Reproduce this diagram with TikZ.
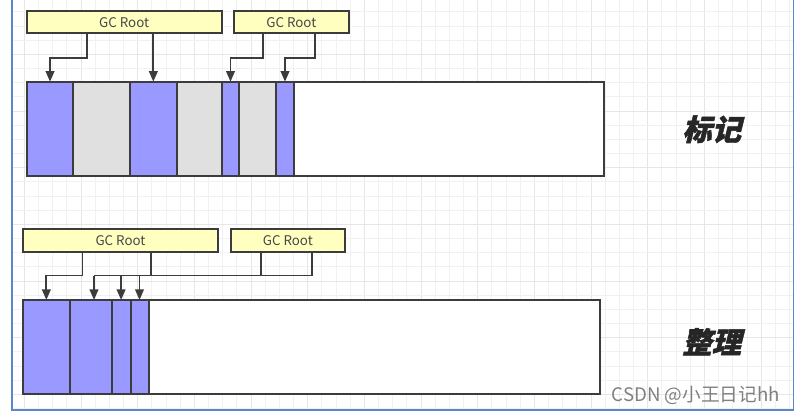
\documentclass[tikz,border=0pt]{standalone}
\usepackage{fontspec}
\setmainfont{Noto Sans CJK SC}
\newfontfamily\cjk{Noto Sans CJK SC}
\newfontfamily\cjkbi[FakeSlant=0.25,BoldFeatures={FakeSlant=0.25,FakeBold=1.5}]{Noto Sans CJK SC}
\usetikzlibrary{fit,arrows.meta}
\definecolor{blu}{HTML}{9999FF}
\definecolor{gry}{HTML}{E0E0E0}
\definecolor{yel}{HTML}{FFFFC0}
\definecolor{edge}{HTML}{3C3C3C}
\definecolor{frame}{HTML}{5A88C8}
\definecolor{gmin}{HTML}{F1F1F1}
\definecolor{gmaj}{HTML}{E6E6E6}
\tikzset{
  seg/.style={draw=edge, line width=1.5pt, inner sep=0pt, outer sep=0pt},
  gcbox/.style={seg, fill=yel, line width=1.3pt},
  gctext/.style={font=\cjk\fontsize{10}{11}\selectfont, text=black!72},
  conn/.style={draw=edge, line width=1.4pt},
  arr/.style={conn, -{Triangle[length=8pt,width=6.5pt]}},
  bigl/.style={font=\cjkbi\bfseries\fontsize{22}{24}\selectfont, text=black!85},
  wmark/.style={font=\cjk\fontsize{14}{16}\selectfont, text=black!50, inner sep=0pt}
}
\begin{document}
\begin{tikzpicture}[x=0.75pt,y=-0.75pt]
\useasboundingbox (0,0) rectangle (799,414);
% grid
\foreach \i in {1,...,55}{
  \pgfmathsetmacro{\gx}{10.05+14.17*\i}
  \pgfmathtruncatemacro{\gm}{mod(\i-1,4)}
  \ifnum\gm=0 \draw[gmaj, line width=0.6pt] (\gx,0) -- (\gx,410);
  \else \draw[gmin, line width=0.6pt] (\gx,0) -- (\gx,410); \fi
}
\foreach \j in {0,...,28}{
  \pgfmathsetmacro{\gy}{11.8+14.17*\j}
  \pgfmathtruncatemacro{\gm}{mod(\j,4)}
  \ifnum\gm=3 \draw[gmaj, line width=0.6pt] (12,\gy) -- (793.3,\gy);
  \else \draw[gmin, line width=0.6pt] (12,\gy) -- (793.3,\gy); \fi
}
\draw[frame, line width=1.1pt] (12,0) -- (12,410) -- (793.3,410) -- (793.3,0);

% ---------- top: mark ----------
\node[gcbox, fit={(26.7,11) (221.7,33.3)}, label={[gctext]center:GC Root}] (g1) {};
\node[gcbox, fit={(234,11) (348.7,33.3)}, label={[gctext]center:GC Root}] (g2) {};
\node[seg, fill=white, fit={(26.7,81.7) (604,175.7)}] (bar1) {};
\node[seg, fill=blu, fit={(26.7,81.7) (73.3,175.7)}] (a1) {};
\node[seg, fill=gry, fit={(73.3,81.7) (130,175.7)}] (a2) {};
\node[seg, fill=blu, fit={(130,81.7) (176.7,175.7)}] (a3) {};
\node[seg, fill=gry, fit={(176.7,81.7) (221.7,175.7)}] (a4) {};
\node[seg, fill=blu, fit={(221.7,81.7) (239.3,175.7)}] (a5) {};
\node[seg, fill=gry, fit={(239.3,81.7) (276,175.7)}] (a6) {};
\node[seg, fill=blu, fit={(276,81.7) (294,175.7)}] (a7) {};
\coordinate (t1) at (86.7,0);
\coordinate (t3) at (263.3,0);
\coordinate (t4) at (315,0);
\coordinate (e1) at (0,58.3);
\draw[arr] (g1.south -| t1) -- (t1 |- e1) -| (a1.north);
\draw[arr] (g1.south -| a3.north) -- (a3.north);
\draw[arr] (g2.south -| t3) -- (t3 |- e1) -| (a5.north);
\draw[arr] (g2.south -| t4) -- (t4 |- e1) -| (a7.north);
\node[bigl] (lab1) at (711.7,129.3) {标记};

% ---------- bottom: compact ----------
\node[gcbox, fit={(22.7,229.3) (218.3,252.3)}, label={[gctext]center:GC Root}] (h1) {};
\node[gcbox, fit={(230.7,229.3) (345,252.3)}, label={[gctext]center:GC Root}] (h2) {};
\node[seg, fill=white, fit={(22.7,300) (600.3,394)}] (bar2) {};
\node[seg, fill=blu, fit={(22.7,300) (70,394)}] (b1) {};
\node[seg, fill=blu, fit={(70,300) (111.7,394)}] (b2) {};
\node[seg, fill=blu, fit={(111.7,300) (130.5,394)}] (b3) {};
\node[seg, fill=blu, fit={(130.5,300) (148.5,394)}] (b4) {};
\coordinate (u1) at (82.5,0);
\coordinate (u2) at (150.7,0);
\coordinate (u3) at (260.7,0);
\coordinate (u4) at (312.3,0);
\coordinate (v2) at (94,0);
\coordinate (e2) at (0,275.5);
\draw[arr] (h1.south -| u1) -- (u1 |- e2) -| (b1.north);
\draw[conn] (h1.south -| u2) -- (u2 |- e2);
\draw[conn] (h2.south -| u3) -- (u3 |- e2);
\draw[conn] (h2.south -| u4) -- (u4 |- e2) -- (v2 |- e2);
\draw[arr] (v2 |- e2) -- (v2 |- b2.north);
\draw[arr] (b3.north |- e2) -- (b3.north);
\draw[arr] (b4.north |- e2) -- (b4.north);
\node[bigl] (lab2) at (711.7,341.7) {整理};

\node[wmark, anchor=base west] (wm) at (611.5,401.5) {CSDN @小王日记hh};
\end{tikzpicture}
\end{document}
